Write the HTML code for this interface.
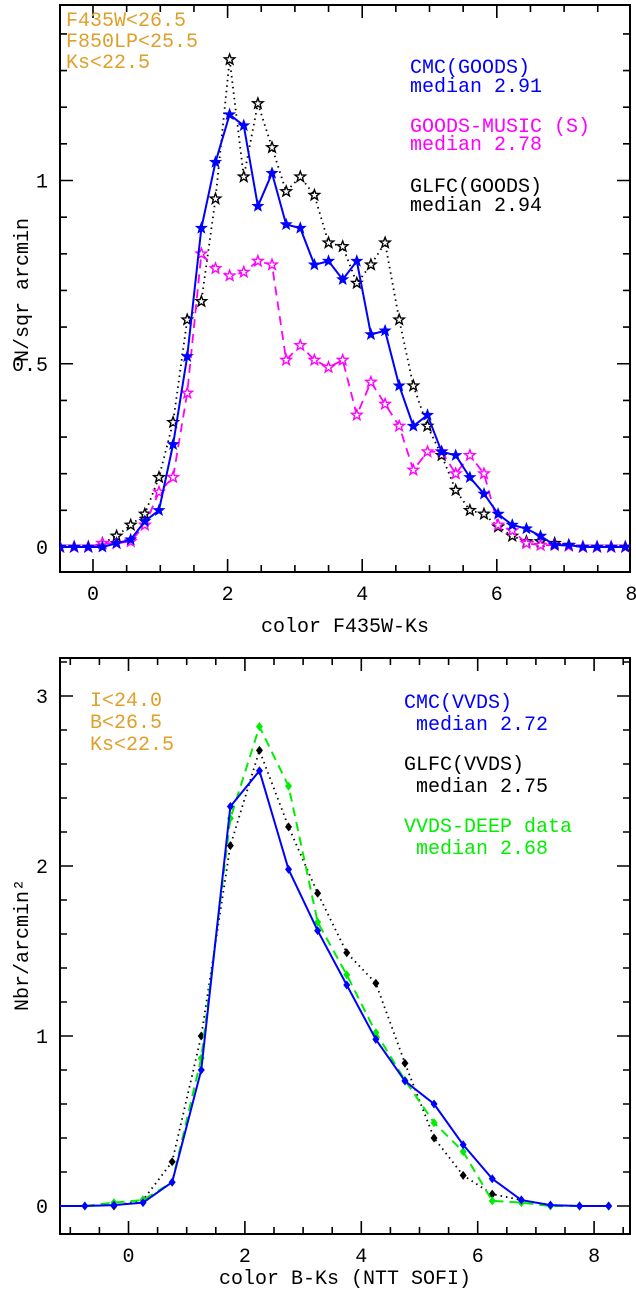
<!DOCTYPE html>
<html><head><meta charset="utf-8"><style>
html,body{margin:0;padding:0;background:#fff;}
svg{display:block;}
text{font-family:"Liberation Mono","DejaVu Sans Mono",monospace;}
</style></head><body>
<svg id="chart" width="636" height="1292" viewBox="0 0 636 1292" xmlns="http://www.w3.org/2000/svg">
<g id="top"></g>
<g id="bot"></g>
<g font-size="20">
<text x="66" y="26" fill="#dfa02a">F435W&lt;26.5</text>
<text x="66" y="47" fill="#dfa02a">F850LP&lt;25.5</text>
<text x="66" y="68" fill="#dfa02a">Ks&lt;22.5</text>
<text x="410" y="73" fill="#0000ff">CMC(GOODS)</text>
<text x="410" y="92" fill="#0000ff">median 2.91</text>
<text x="410" y="132" fill="#ff00ff">GOODS-MUSIC (S)</text>
<text x="410" y="150" fill="#ff00ff">median 2.78</text>
<text x="410" y="192" fill="#000">GLFC(GOODS)</text>
<text x="410" y="211" fill="#000">median 2.94</text>
<text x="345" y="632" text-anchor="middle" fill="#000">color F435W-Ks</text>
<text transform="translate(28,290) rotate(-90)" text-anchor="middle" fill="#000">N/sqr arcmin</text>
</g>
<g font-size="20">
<text x="90" y="706" fill="#dfa02a">I&lt;24.0</text>
<text x="90" y="728" fill="#dfa02a">B&lt;26.5</text>
<text x="90" y="750" fill="#dfa02a">Ks&lt;22.5</text>
<text x="404" y="708" fill="#0000ff">CMC(VVDS)</text>
<text x="416" y="730" fill="#0000ff">median 2.72</text>
<text x="404" y="770" fill="#000">GLFC(VVDS)</text>
<text x="416" y="792" fill="#000">median 2.75</text>
<text x="404" y="832" fill="#00ee00">VVDS-DEEP data</text>
<text x="416" y="854" fill="#00ee00">median 2.68</text>
<text x="345" y="1284" text-anchor="middle" fill="#000">color B-Ks (NTT SOFI)</text>
<text transform="translate(28,945) rotate(-90)" text-anchor="middle" fill="#000">Nbr/arcmin²</text>
</g>
</svg>
<script>
// ---- top panel data ----
const topX = [-0.49,-0.28,-0.07,0.14,0.35,0.56,0.77,0.98,1.19,1.40,1.61,1.82,2.03,2.24,2.45,2.66,2.87,3.08,3.29,3.50,3.71,3.92,4.13,4.34,4.55,4.76,4.97,5.18,5.39,5.60,5.81,6.02,6.23,6.44,6.65,6.86,7.07,7.28,7.49,7.70,7.91];
const cmcGoods = [0,0,0,0,0.01,0.02,0.07,0.10,0.28,0.52,0.87,1.05,1.18,1.15,0.93,1.02,0.88,0.87,0.77,0.78,0.73,0.78,0.58,0.59,0.44,0.33,0.36,0.26,0.25,0.19,0.145,0.09,0.06,0.05,0.03,0.005,0.005,0,0,0,0];
const musicGoods = [0,0,0,0.01,0.01,0.015,0.06,0.15,0.19,0.42,0.80,0.76,0.74,0.75,0.78,0.77,0.51,0.55,0.51,0.49,0.51,0.36,0.45,0.39,0.33,0.21,0.26,0.26,0.20,0.25,0.20,0.06,0.045,0.01,0.005,0.005,0.003,0,0,0,0];
const glfcGoods = [0,0,0,0.01,0.03,0.06,0.09,0.19,0.34,0.62,0.67,0.95,1.33,1.01,1.21,1.09,0.97,1.01,0.96,0.83,0.82,0.72,0.77,0.83,0.62,0.44,0.33,0.25,0.155,0.10,0.09,0.055,0.03,0.015,0.015,0.01,0.005,0,0,0,0];
const topXTicks = [0,2,4,6,8];
const topYTicks = [0,0.5,1];
const topYLabels = ["0","0.5","1"];
// ---- bottom panel data ----
const botX = [-1.25,-0.75,-0.25,0.25,0.75,1.25,1.75,2.25,2.75,3.25,3.75,4.25,4.75,5.25,5.75,6.25,6.75,7.25,7.75,8.25];
const cmcVvds = [0,0,0.005,0.02,0.14,0.80,2.35,2.56,1.98,1.62,1.30,0.98,0.735,0.60,0.36,0.16,0.035,0.005,0,0];
const glfcVvds = [null,null,0,0.035,0.26,1.0,2.12,2.68,2.23,1.84,1.49,1.31,0.84,0.40,0.18,0.07,0.035,0.005,0,0];
const deepVvds = [0,0,0.02,0.035,0.14,0.87,2.28,2.82,2.47,1.67,1.36,1.02,0.74,0.49,0.32,0.03,0.02,0,0,0];
const botXTicks = [0,2,4,6,8];
const botYTicks = [0,1,2,3];

const NS="http://www.w3.org/2000/svg";
function mk(parent,tag,attrs){const e=document.createElementNS(NS,tag);for(const k in attrs)e.setAttribute(k,attrs[k]);parent.appendChild(e);return e;}

function axes(g,cfg){
  const {L,R,T,B,xs,ys,xmin,xmax,ymin,ymax,xMinor,yMinor,xTicks,yTicks,yLabels}=cfg;
  const fr=mk(g,'rect',{x:L,y:T,width:R-L,height:B-T,fill:'none',stroke:'#000','stroke-width':2});
  
  
  let d='';
  for(let v=Math.ceil(xmin/xMinor)*xMinor;v<=xmax+1e-9;v+=xMinor){
    const x=xs(v);const major=xTicks.some(t=>Math.abs(t-v)<1e-6);const len=major?13:7;
    d+=`M${x},${B}v${-len}M${x},${T}v${len}`;
  }
  for(let v=Math.ceil(ymin/yMinor-1e-9)*yMinor;v<=ymax+1e-9;v+=yMinor){
    const y=ys(v);const major=yTicks.some(t=>Math.abs(t-v)<1e-6);const len=major?13:7;
    d+=`M${L},${y}h${len}M${R},${y}h${-len}`;
  }
  const tk=mk(g,'path',{d:d,stroke:'#000','stroke-width':1.6,fill:'none'});
  
  
  xTicks.forEach(v=>{const t=mk(g,'text',{x:xs(v),y:B+28,'text-anchor':'middle','font-size':20});t.textContent=String(v);
    
    });
  yTicks.forEach((v,i)=>{const t=mk(g,'text',{x:L-12,y:ys(v)+7,'text-anchor':'end','font-size':20});t.textContent=yLabels?yLabels[i]:String(v);
    
    });
}
function star(cx,cy,r){let p=[];for(let i=0;i<10;i++){const a=-Math.PI/2+i*Math.PI/5;const rr=i%2?r*0.42:r;p.push((cx+rr*Math.cos(a)).toFixed(1)+','+(cy+rr*Math.sin(a)).toFixed(1));}return p.join(' ');}
function series(g,clipId,xsArr,vals,xs,ys,color,dash,width,marker,name){
  const sg=mk(g,'g',{'clip-path':`url(#${clipId})`});
  
  
  let pts=[];xsArr.forEach((x,i)=>{if(vals[i]!=null)pts.push([xs(x),ys(vals[i])]);});
  const ln=mk(sg,'polyline',{points:pts.map(p=>p.join(',')).join(' '),fill:'none',stroke:color,'stroke-width':width,'stroke-dasharray':dash});
  
  
  pts.forEach(p=>{let m;
    if(marker==='starFill'){m=mk(sg,'polygon',{points:star(p[0],p[1],5.5),fill:color,stroke:color,'stroke-width':1});}
    else if(marker==='starOpen'){m=mk(sg,'polygon',{points:star(p[0],p[1],5.5),fill:'#fff',stroke:color,'stroke-width':1.4});}
    else {m=mk(sg,'polygon',{points:`${p[0]},${p[1]-4.5} ${p[0]+3.5},${p[1]} ${p[0]},${p[1]+4.5} ${p[0]-3.5},${p[1]}`,fill:color});}
    
    
  });
}
const svg=document.getElementById('chart');
const defs=mk(svg,'defs',{});
const c1=mk(defs,'clipPath',{id:'clipTop'});mk(c1,'rect',{x:60,y:5,width:570,height:567});
const c2=mk(defs,'clipPath',{id:'clipBot'});mk(c2,'rect',{x:60,y:658,width:570,height:576});

// top
(function(){
  const L=60,R=630,T=5,B=572;
  const xs=v=>93+v*67.3, ys=v=>547-v*366.5;
  const g=document.getElementById('top');
  axes(g,{L,R,T,B,xs,ys,xmin:-0.49,xmax:7.95,ymin:-0.09,ymax:1.47,xMinor:0.5,yMinor:0.1,xTicks:topXTicks,yTicks:topYTicks,yLabels:topYLabels});
  series(g,'clipTop',topX,glfcGoods,xs,ys,'#000','1.5 4',1.8,'starOpen','series-glfc-goods');
  series(g,'clipTop',topX,musicGoods,xs,ys,'#ff00ff','9 6',1.8,'starOpen','series-goods-music');
  series(g,'clipTop',topX,cmcGoods,xs,ys,'#0000ff','none',2,'starFill','series-cmc-goods');
})();
// bottom
(function(){
  const L=60,R=630,T=658,B=1234;
  const xs=v=>128.5+v*58.2, ys=v=>1206-v*170;
  const g=document.getElementById('bot');
  axes(g,{L,R,T,B,xs,ys,xmin:-1.17,xmax:8.6,ymin:-0.16,ymax:3.21,xMinor:0.5,yMinor:0.2,xTicks:botXTicks,yTicks:botYTicks});
  series(g,'clipBot',botX,glfcVvds,xs,ys,'#000','1.5 4',1.8,'diamond','series-glfc-vvds');
  series(g,'clipBot',botX,deepVvds,xs,ys,'#00ee00','9 6',2,'diamond','series-vvds-deep');
  series(g,'clipBot',botX,cmcVvds,xs,ys,'#0000ff','none',2,'diamond','series-cmc-vvds');
})();
</script>
</body></html>
